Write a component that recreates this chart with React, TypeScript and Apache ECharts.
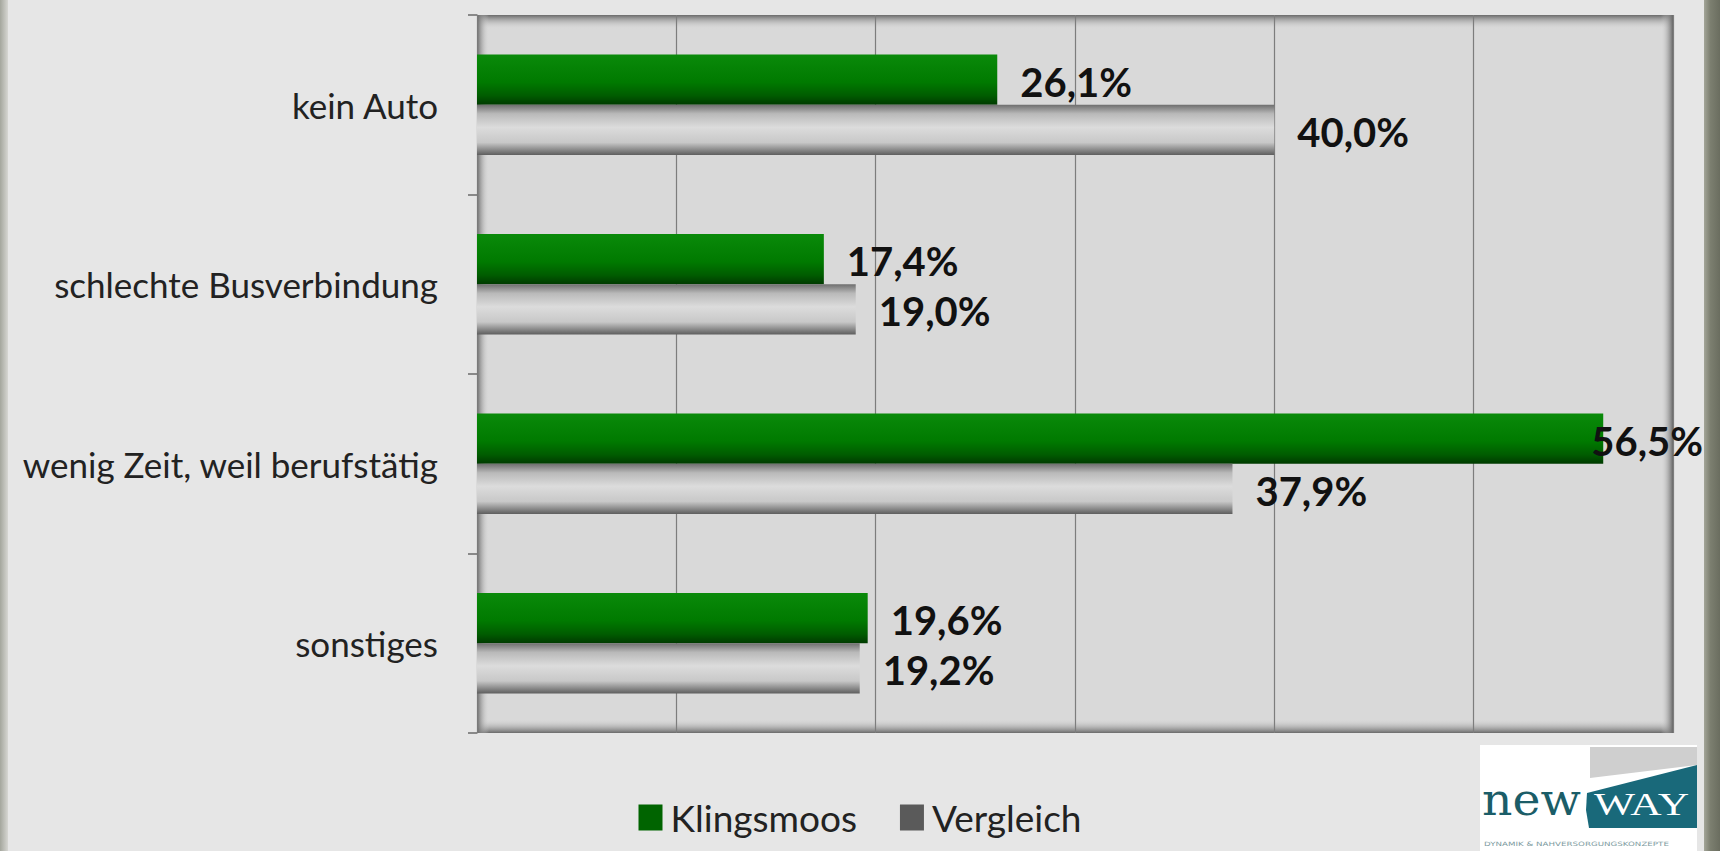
import React, { useEffect, useRef } from "react";
import * as echarts from "echarts";

const categories = ["kein Auto", "schlechte Busverbindung", "wenig Zeit, weil berufstätig", "sonstiges"];
const seriesNames = ["Klingsmoos", "Vergleich"];
const klingsmoos = [26.1, 17.4, 56.5, 19.6];
const vergleich = [40.0, 19.0, 37.9, 19.2];
const xMin = 0;
const xMax = 60;
const xInterval = 10;

const fmt = (v: number) => v.toFixed(1).replace(".", ",") + "%";

export default function App() {
  const ref = useRef<HTMLDivElement>(null);
  useEffect(() => {
    const chart = echarts.init(ref.current!, null, { renderer: "svg" });
    const gl = 477, gr = 1673, gt = 15, gb = 733;
    const gw = gr - gl, gh = gb - gt;
    const LG = echarts.graphic.LinearGradient;

    const greenGrad = new LG(0, 0, 0, 1, [
      { offset: 0, color: "#0a8a0a" },
      { offset: 0.55, color: "#007a00" },
      { offset: 0.82, color: "#005c00" },
      { offset: 1, color: "#003a00" },
    ]);
    const grayGrad = new LG(0, 0, 0, 1, [
      { offset: 0, color: "#6e6e6e" },
      { offset: 0.18, color: "#b9b9b9" },
      { offset: 0.45, color: "#dcdcdc" },
      { offset: 0.75, color: "#c8c8c8" },
      { offset: 1, color: "#5e5e5e" },
    ]);

    const labelBase = {
      show: true,
      position: "right" as const,
      distance: 23,
      offset: [0, 2],
      fontFamily: "Lato",
      fontWeight: "bold" as const,
      fontSize: 40,
      color: "#111",
      formatter: (p: any) => fmt(p.value),
    };

    const greenData = klingsmoos.map((v) =>
      v > 50 ? { value: v, label: { distance: -12 } } : { value: v }
    );

    const option: any = {
      animation: false,
      backgroundColor: "#e6e6e6",
      grid: { left: gl, top: gt, width: gw, height: gh, show: false },
      xAxis: {
        type: "value",
        min: xMin,
        max: xMax,
        interval: xInterval,
        axisLabel: { show: false },
        axisLine: { show: false },
        axisTick: { show: false },
        splitLine: { show: true, lineStyle: { color: "#7d7d7d", width: 1.2 } },
      },
      yAxis: {
        type: "category",
        data: categories,
        inverse: true,
        axisLine: { show: true, lineStyle: { color: "#7a7a7a", width: 1 } },
        axisTick: { show: true, length: 9, alignWithLabel: false, lineStyle: { color: "#6a6a6a", width: 1.5 } },
        axisLabel: {
          fontFamily: "Lato",
          fontSize: 35,
          color: "#222",
          margin: 39,
        },
      },
      legend: {
        left: "center",
        top: 794,
        itemGap: 43,
        itemWidth: 24,
        itemHeight: 26,
        icon: "rect",
        textStyle: { fontFamily: "Lato", fontSize: 37, color: "#222", padding: [0, 0, 0, 3] },
        data: [
          { name: seriesNames[0], itemStyle: { color: "#006400" } },
          { name: seriesNames[1], itemStyle: { color: "#5a5a5a" } },
        ],
      },
      series: [
        {
          name: seriesNames[0],
          type: "bar",
          data: greenData,
          barGap: "0%",
          barCategoryGap: "44%",
          itemStyle: { color: greenGrad },
          label: labelBase,
        },
        {
          name: seriesNames[1],
          type: "bar",
          data: vergleich,
          barGap: "0%",
          barCategoryGap: "44%",
          itemStyle: { color: grayGrad },
          label: labelBase,
        },
      ],
      graphic: [
        {
          type: "rect",
          z: -10,
          shape: { x: 0, y: 0, width: 8, height: 851 },
          style: { fill: new LG(0, 0, 1, 0, [{ offset: 0, color: "#a4a69d" }, { offset: 1, color: "#d6d6d2" }]) },
        },
        {
          type: "rect",
          z: -10,
          shape: { x: 1704, y: 0, width: 16, height: 851 },
          style: { fill: new LG(0, 0, 1, 0, [{ offset: 0, color: "#a3a598" }, { offset: 0.4, color: "#7c7f70" }, { offset: 1, color: "#6a6d5f" }]) },
        },
        {
          type: "rect",
          z: -10,
          shape: { x: gl, y: gt, width: gw, height: gh },
          style: { fill: "#d9d9d9" },
        },
        {
          type: "rect",
          z: -9,
          shape: { x: gl, y: gt, width: gw, height: 14 },
          style: { fill: new LG(0, 0, 0, 1, [{ offset: 0, color: "#6a6a6a" }, { offset: 1, color: "rgba(217,217,217,0)" }]) },
        },
        {
          type: "rect",
          z: -9,
          shape: { x: gl, y: gb - 14, width: gw, height: 14 },
          style: { fill: new LG(0, 0, 0, 1, [{ offset: 0, color: "rgba(217,217,217,0)" }, { offset: 1, color: "#6a6a6a" }]) },
        },
        {
          type: "rect",
          z: -9,
          shape: { x: gl, y: gt, width: 12, height: gh },
          style: { fill: new LG(0, 0, 1, 0, [{ offset: 0, color: "#6a6a6a" }, { offset: 1, color: "rgba(217,217,217,0)" }]) },
        },
        {
          type: "rect",
          z: -9,
          shape: { x: gr - 12, y: gt, width: 12, height: gh },
          style: { fill: new LG(0, 0, 1, 0, [{ offset: 0, color: "rgba(217,217,217,0)" }, { offset: 1, color: "#666" }]) },
        },
        // logo
        {
          type: "group",
          z: 10,
          children: [
            { type: "rect", shape: { x: 1480, y: 745, width: 217, height: 106 }, style: { fill: "#ffffff" } },
            {
              type: "polygon",
              shape: { points: [[1590, 747], [1697, 747], [1697, 765], [1590, 778]] },
              style: { fill: "#cfcfcf" },
            },
            {
              type: "polygon",
              shape: { points: [[1587, 793], [1697, 765], [1697, 828], [1589, 828], [1586, 810]] },
              style: { fill: "#19697a" },
            },
            {
              type: "text",
              x: 1482,
              y: 822,
              scaleX: 1.05,
              style: { x: 0, y: 0, text: "new", fill: "#1b5d68", font: "45px 'DejaVu Serif'", textVerticalAlign: "bottom" },
            },
            {
              type: "text",
              x: 1594,
              y: 820,
              scaleX: 1.36,
              style: { x: 0, y: 0, text: "WAY", fill: "#ffffff", font: "32px 'Liberation Serif'", textVerticalAlign: "bottom" },
            },
            {
              type: "text",
              x: 1484,
              y: 847,
              scaleX: 1.45,
              style: { x: 0, y: 0, text: "DYNAMIK & NAHVERSORGUNGSKONZEPTE", fill: "#7d9aa0", font: "6px 'DejaVu Sans'", textVerticalAlign: "bottom" },
            },
          ],
        },
      ],
    };
    chart.setOption(option);
    return () => chart.dispose();
  }, []);
  return <div ref={ref} style={{ position: "absolute", left: 0, top: 0, width: 1720, height: 851 }} />;
}
